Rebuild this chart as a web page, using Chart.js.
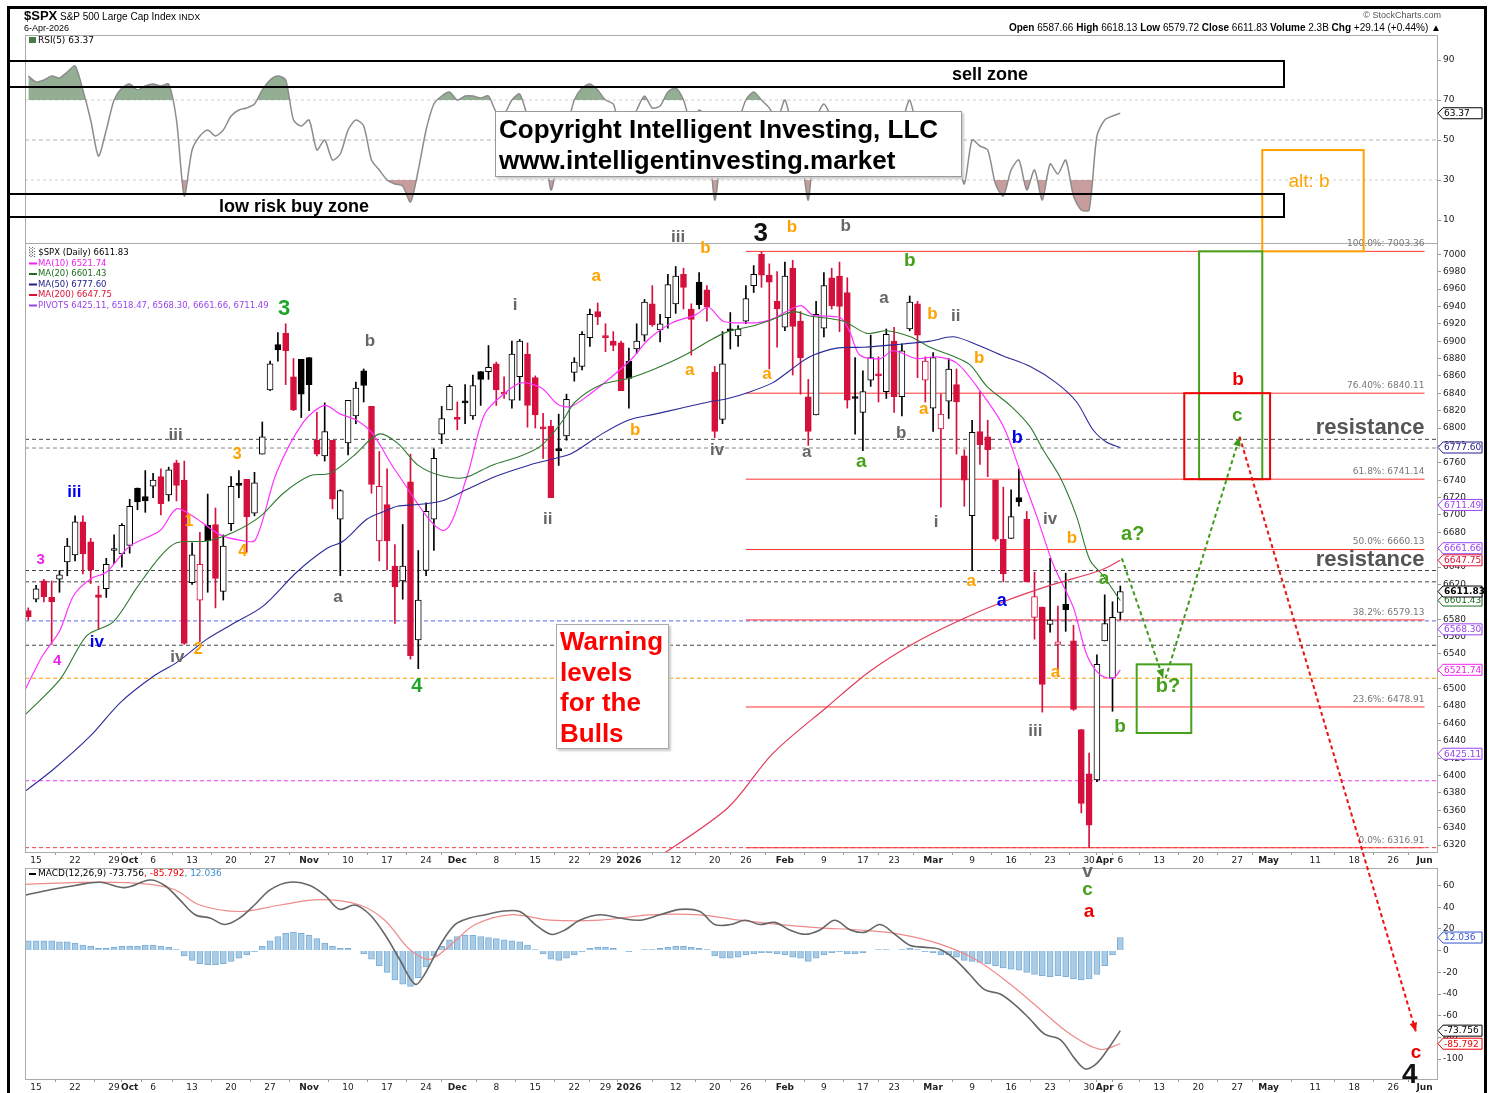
<!DOCTYPE html>
<html>
<head>
<meta charset="utf-8">
<script src="https://cdn.jsdelivr.net/npm/chart.js@4.4.1/dist/chart.umd.min.js"></script>
<style>
  body { margin: 0; background: #fff; }
  #wrap { position: relative; width: 1489px; height: 1093px; overflow: hidden; background: #fff;
          font-family: "Liberation Sans", Arial, sans-serif; }
  canvas { position: absolute; left: 0; top: 0; }
  .abs { position: absolute; white-space: nowrap; }
  #frame { position: absolute; left: 7px; top: 6px; width: 1474px; height: 1100px;
           border-left: 3px solid #000; border-top: 3px solid #000; border-right: 3px solid #000; }
  .zone { position: absolute; border: 2px solid #000; box-sizing: border-box; }
  .zone span { position: absolute; top: 50%; transform: translate(-50%, -50%); font-weight: bold; font-size: 18px; color: #000; }
  #copy { left: 495px; top: 111px; width: 467px; height: 66px; background: #fff; border: 1px solid #999;
          box-shadow: 2px 2px 2px #ccc; box-sizing: border-box; font-weight: bold; font-size: 26px; line-height: 31px; padding: 2px 0 0 3px; }
  #warn { left: 556px; top: 624px; width: 113px; height: 125px; background: #fff; border: 1px solid #aaa;
          box-shadow: 2px 2px 2px #ccc; box-sizing: border-box; color: #f00; font-weight: bold; font-size: 26px; line-height: 30.5px; padding: 1px 0 0 3px; }
</style>
</head>
<body>
<div id="wrap">
  <canvas id="rsi" width="1489" height="1093"></canvas>
  <canvas id="macd" width="1489" height="1093"></canvas>
  <canvas id="price" width="1489" height="1093"></canvas>
  <div id="frame"></div>

  <div class="abs" style="left:24px;top:8px;font-size:10px;"><b style="font-size:13px">$SPX</b> S&amp;P 500 Large Cap Index <span style="font-size:9px">INDX</span></div>
  <div class="abs" style="left:24px;top:23px;font-size:9px;">6-Apr-2026</div>
  <div class="abs" style="right:48px;top:10px;font-size:9px;color:#555;">&copy; StockCharts.com</div>
  <div class="abs" style="right:48px;top:22px;font-size:10px;"><b>Open</b> 6587.66 <b>High</b> 6618.13 <b>Low</b> 6579.72 <b>Close</b> 6611.83 <b>Volume</b> 2.3B <b>Chg</b> +29.14 (+0.44%) &#9650;</div>

  <div class="zone" style="left:8px;top:60px;width:1277px;height:28px;"><span style="left:980px">sell zone</span></div>
  <div class="zone" style="left:8px;top:193px;width:1277px;height:25px;"><span style="left:284px">low risk buy zone</span></div>
  <div class="abs" id="copy">Copyright Intelligent Investing, LLC<br>www.intelligentinvesting.market</div>
  <div class="abs" id="warn">Warning<br>levels<br>for the<br>Bulls</div>
</div>

<script>
// ---------- data ----------
// trading day index 0 = 12-Sep-2025, 140 = 6-Apr-2026 (last bar), future area to Jun
const tickDays   = [1, 6, 11, 13, 16, 21, 26, 31, 36, 41, 46, 51, 55, 60, 65, 70, 74, 77, 83, 88, 92, 97, 102, 107, 111, 116, 121, 126, 131, 136, 138, 140, 145, 150, 155, 159, 165, 170, 175, 179];
const tickLabels = ['15', '22', '29', 'Oct', '6', '13', '20', '27', 'Nov', '10', '17', '24', 'Dec', '8', '15', '22', '29', '2026', '12', '20', '26', 'Feb', '9', '17', '23', 'Mar', '9', '16', '23', '30', 'Apr', '6', '13', '20', '27', 'May', '11', '18', '26', 'Jun'];
const majorTicks = ['Oct', 'Nov', 'Dec', '2026', 'Feb', 'Mar', 'Apr', 'May', 'Jun'];

const prevClose = 6587;
const open  = [6590,6603,6624,6605,6626,6646,6654,6692,6669,6608, 6615,6659,6655,6665,6731,6721,6733,6744,6723,6760, 6740,6622,6602,6688,6689,6612,6690,6736,6741,6702,
               6770,6844,6896,6909,6859,6879,6881,6786,6768,6786, 6695,6783,6814,6866,6825,6670,6712,6641,6624,6738, 6556,6636,6695,6793,6821,6811,6830,6814,6865,6865,
               6874,6840,6832,6859,6885,6858,6801,6802,6776,6791, 6864,6871,6904,6934,6905,6900,6898,6877,6891,6907, 6943,6913,6927,6943,6977,6937,6968,6959,6864,6810,
               6914,6906,6923,6964,7000,6976,6946,6916,6984,6923, 6836,6815,6915,6973,6975,6956,6836,6818,6855,6861, 6842,6900,6836,6914,6943,6855,6823,6799,6831,6850,
               6768,6699,6796,6790,6740,6672,6673,6720,6695,6582, 6594,6574,6551,6597,6555,6453,6402,6395,6555,6512, 6587.66];
const high  = [6593,6619,6626,6624,6636,6673,6699,6699,6673,6618, 6650,6677,6690,6718,6731,6751,6748,6753,6755,6763, 6762,6668,6680,6724,6708,6677,6744,6751,6741,6749,
               6807,6877,6910,6920,6880,6879,6881,6818,6829,6786, 6729,6832,6853,6868,6825,6773,6753,6666,6689,6770, 6659,6714,6776,6825,6850,6830,6850,6861,6865,6895,
               6876,6859,6900,6902,6898,6860,6817,6809,6816,6839, 6881,6911,6937,6944,6920,6911,6900,6892,6920,6948, 6964,6931,6977,6986,6984,6943,6979,6964,6871,6911,
               6933,6918,6964,6987,7003,6989,6980,6991,6993,6934, 6856,6946,6979,6984,6991,6973,6881,6866,6907,6882, 6914,6916,6897,6952,6946,6882,6887,6839,6880,6868,
               6775,6809,6842,6809,6740,6732,6729,6753,6704,6634, 6594,6650,6595,6633,6573,6453,6426,6539,6608,6600, 6618.13];
const low   = [6579,6600,6600,6551,6611,6630,6647,6632,6621,6568, 6605,6644,6640,6656,6706,6703,6720,6700,6716,6716, 6551,6620,6554,6611,6593,6602,6682,6720,6657,6699,
               6770,6843,6877,6850,6820,6812,6820,6768,6762,6707, 6630,6769,6805,6830,6725,6647,6637,6575,6603,6534, 6523,6630,6659,6782,6821,6798,6805,6810,6826,6856,
               6826,6834,6823,6832,6801,6800,6765,6720,6757,6786, 6854,6867,6894,6919,6888,6889,6843,6823,6886,6900, 6917,6899,6915,6932,6937,6884,6937,6923,6789,6805,
               6891,6894,6920,6956,6962,6868,6893,6912,6861,6839, 6780,6815,6905,6937,6911,6823,6793,6774,6848,6830, 6834,6818,6814,6912,6858,6830,6796,6709,6811,6770,
               6710,6636,6758,6744,6670,6623,6673,6710,6623,6557, 6473,6565,6514,6566,6475,6357,6317,6393,6555,6474, 6579.72];
const close = [6583,6615,6606,6600,6631,6664,6692,6655,6637,6605, 6643,6661,6688,6710,6715,6716,6740,6713,6752,6734, 6552,6654,6643,6670,6627,6664,6733,6734,6698,6737,
               6790,6874,6890,6889,6821,6839,6850,6770,6796,6718, 6728,6832,6846,6849,6735,6733,6670,6617,6641,6538, 6602,6704,6765,6811,6848,6810,6829,6849,6856,6870,
               6844,6839,6885,6900,6826,6815,6799,6720,6774,6833, 6876,6908,6931,6928,6904,6895,6843,6857,6900,6945, 6919,6920,6965,6975,6962,6925,6942,6939,6796,6874,
               6912,6914,6949,6977,6976,6968,6937,6975,6917,6881, 6796,6931,6964,6941,6940,6832,6834,6842,6881,6860, 6908,6836,6889,6945,6907,6877,6881,6816,6868,6830,
               6740,6795,6781,6775,6672,6632,6698,6715,6623,6606, 6505,6579,6554,6591,6476,6368,6343,6528,6575,6582, 6611.83];

// moving averages, read at points along each line
const ma10Days  = [-0.4, 1.9, 4, 5.8, 8.1, 10, 13, 16.9, 19, 21.2, 24.6, 27.1, 29.1, 31.8, 35.3, 38, 40, 42.1, 44.2, 47, 53.2, 56.2, 58.5, 61.2, 63.2, 65.8, 67.9, 69.6, 72, 74.8, 77.4, 79.5, 82.5, 85.5, 87.2, 89.1, 91.9, 94, 95.5, 99, 100.6, 104.1, 105.3, 106.6, 109.2, 110.9, 113.9, 116.5, 119, 122, 125, 127.1, 129.3, 131.4, 134, 135.7, 137.4, 139.1, 140];
const ma10Vals  = [6499, 6539, 6566, 6607, 6627, 6634, 6664, 6682, 6707, 6698, 6677, 6671, 6671, 6748, 6807, 6826, 6816, 6809, 6793, 6752, 6682, 6743, 6816, 6841, 6852, 6846, 6827, 6825, 6839, 6859, 6880, 6902, 6921, 6930, 6939, 6923, 6921, 6922, 6926, 6941, 6930, 6927, 6911, 6884, 6880, 6889, 6880, 6882, 6875, 6843, 6802, 6752, 6698, 6643, 6593, 6539, 6516, 6512, 6521.74];
const ma20Days  = [-0.4, 4.1, 7.5, 10.9, 13.9, 16.9, 19, 22.9, 26.3, 29.7, 32.7, 36.1, 38.7, 41.7, 44.9, 47.3, 50, 53, 56, 59.4, 63.2, 65.8, 68.4, 70.1, 73.5, 76.9, 80.3, 84.2, 87.2, 89.7, 93.1, 95.4, 98.1, 100.2, 104.5, 107.5, 110.1, 113.1, 115.6, 118.2, 120.7, 122.9, 126, 128.4, 130.1, 132.3, 134.4, 136.1, 137.8, 140];
const ma20Vals  = [6470, 6511, 6561, 6577, 6616, 6652, 6668, 6670, 6680, 6698, 6725, 6745, 6748, 6768, 6793, 6783, 6757, 6745, 6743, 6757, 6768, 6780, 6807, 6830, 6850, 6857, 6868, 6884, 6900, 6911, 6918, 6925, 6934, 6929, 6923, 6909, 6912, 6905, 6893, 6884, 6873, 6848, 6825, 6802, 6775, 6743, 6698, 6648, 6630, 6601.43];
const ma50Days  = [-0.4, 3.2, 7.9, 11.8, 16, 19, 22.9, 26.3, 30.1, 34.4, 38.2, 40.4, 43.4, 45.9, 47.3, 50, 53, 56.4, 59.8, 64.1, 67.5, 69.7, 73.5, 76.9, 80.3, 83.8, 87.2, 89.7, 92.3, 95.4, 97.6, 100.2, 103.6, 107, 111.3, 115.6, 118.6, 121.6, 125, 128.4, 131.8, 134.4, 136.5, 138.2, 140];
const ma50Vals  = [6382, 6407, 6445, 6484, 6514, 6530, 6557, 6575, 6595, 6634, 6661, 6670, 6695, 6705, 6710, 6712, 6716, 6730, 6744, 6757, 6765, 6771, 6793, 6809, 6816, 6823, 6830, 6834, 6841, 6852, 6866, 6882, 6892, 6893, 6896, 6900, 6905, 6896, 6883, 6871, 6852, 6830, 6798, 6784, 6777.60];
const ma200Days = [76, 80.3, 89.7, 95.4, 102.4, 107.9, 113.5, 119.5, 125, 131.4, 137.4, 140];
const ma200Vals = [6275, 6303, 6363, 6425, 6479, 6520, 6552, 6579, 6600, 6620, 6636, 6647.75];
const pivots = [6425.11, 6518.47, 6568.30, 6661.66, 6711.49];

// horizontal levels across the price panel
const hLevels = [6787, 6777, 6636, 6623, 6578, 6550, 6512, 6394, 6317];
const fibLevels = [7003.36, 6840.11, 6741.14, 6660.13, 6579.13, 6478.91, 6316.91];
const fibNames  = ['100.0%', '76.40%', '61.8%', '50.0%', '38.2%', '23.6%', '0.0%'];
const fibFrom = 92, fibTo = 179;

// RSI(5), one value per bar
const rsi = [82, 79, 80, 82, 81, 84, 87, 75, 60, 42, 55, 70, 76, 78, 75, 77, 78, 77, 78, 60,
             22, 45, 52, 55, 52, 55, 62, 65, 66, 68, 75, 80, 82, 80, 60, 57, 60, 45, 50, 40,
             43, 55, 60, 57, 40, 35, 30, 28, 27, 19, 35, 55, 68, 72, 74, 70, 72, 72, 71, 72,
             64, 63, 70, 73, 62, 55, 52, 25, 42, 55, 70, 76, 78, 75, 70, 68, 55, 58, 65, 72,
             66, 67, 74, 76, 70, 58, 65, 60, 20, 48, 60, 60, 70, 74, 70, 66, 60, 70, 55, 45,
             20, 60, 68, 62, 62, 32, 35, 40, 50, 48, 62, 45, 58, 70, 55, 50, 55, 35, 52, 45,
             28, 50, 47, 45, 28, 22, 35, 40, 25, 35, 20, 38, 33, 40, 22, 15, 15, 52, 60, 62, 63.37];

// MACD(12,26,9)
const macdDays = [-0.4, 2.8, 6, 9.2, 12.4, 15.6, 17.5, 19.4, 21.4, 23.3, 25.2, 27.1, 29, 31, 33.5, 36.1, 38, 39.9, 41.9, 43.8, 45.7, 47.6, 49.6, 50.8, 52.8, 54.7, 56.6, 58.6, 60.5, 63, 65, 67, 68.8, 70.7, 73.3, 75.8, 78.4, 81, 83.6, 86.1, 88, 90, 91.9, 93.8, 95.7, 97.6, 99.6, 101.5, 103.4, 105.4, 107.3, 109.2, 111.1, 113, 115, 116.9, 118.8, 120.7, 122.6, 124.6, 126.5, 128.4, 130.3, 132.3, 134.2, 135.5, 136.8, 138, 140];
const macdVals = [51, 56, 60, 63, 58, 65, 60, 47, 33, 30, 24, 30, 42, 56, 63, 60, 51, 38, 42, 33, 15, -8, -31, -22, 5, 24, 30, 33, 36, 36, 24, 15, 19, 28, 33, 30, 28, 33, 38, 36, 24, 24, 28, 24, 26, 19, 15, 19, 28, 19, 17, 24, 15, 5, 3, 1, -8, -22, -36, -40, -50, -63, -77, -82, -100, -109, -105, -95, -73.756];
const signalDays = [-0.4, 9.2, 15.6, 18.8, 22, 27.1, 32.3, 37.4, 42.5, 45.7, 48.9, 51.5, 54.1, 57.3, 61.8, 66.9, 73.3, 79.7, 86.1, 91.2, 96.4, 101.5, 106.6, 111.8, 116.9, 121.4, 125.9, 129.7, 133.6, 137.4, 140];
const signalVals = [61, 63, 61, 56, 42, 36, 42, 47, 42, 28, 1, -8, 5, 24, 33, 28, 28, 33, 33, 28, 24, 21, 19, 15, 6, -8, -31, -54, -77, -91, -85.792];
const histVals = [9, 9, 9, 9, 8, 8, 7, 5, 4, 2, 2, 3, 4, 4, 4, 5, 5, 4, 3, 1,
                  -5, -9, -12, -13, -13, -12, -10, -7, -4, -1, 4, 9, 13, 16, 17, 16, 14, 11, 7, 4,
                  2, 2, 0, -3, -8, -14, -20, -27, -31, -33, -25, -15, -5, 4, 10, 13, 14, 14, 13, 12,
                  11, 10, 9, 8, 5, 1, -3, -8, -9, -7, -4, -1, 2, 3, 3, 2, 0, -1, 0, 1,
                  1, 2, 3, 4, 4, 3, 2, 1, -5, -7, -7, -6, -4, -3, -2, -2, -3, -4, -6, -7,
                  -10, -7, -4, -2, -1, -3, -3, -2, 0, 1, 1, 0, 1, 2, 1, -1, -2, -4, -4, -6,
                  -9, -10, -11, -12, -14, -16, -17, -18, -20, -22, -23, -24, -23, -24, -26, -27, -26, -22, -14, -4, 12.036];

const priceTicks = [6320, 6340, 6360, 6380, 6400, 6420, 6440, 6460, 6480, 6500, 6520, 6540, 6560, 6580, 6600, 6620, 6640, 6660, 6680, 6700, 6720, 6740, 6760, 6780, 6800, 6820, 6840, 6860, 6880, 6900, 6920, 6940, 6960, 6980, 7000];
const rsiTicks  = [10, 30, 50, 70, 90];
const macdTicks = [-100, -80, -60, -40, -20, 0, 20, 40, 60];

// wave-count labels: text, trading day, price, colour key, font size
const waveLabels = [
  ['3', 1.6, 6648, 'mag', 15], ['4', 3.7, 6532, 'mag', 15], ['iii', 5.9, 6726, 'blu', 17], ['iv', 8.8, 6553, 'blu', 17],
  ['iii', 18.9, 6792, 'gry', 17], ['1', 20.6, 6692, 'org', 16], ['iv', 19.1, 6536, 'gry', 17], ['2', 21.8, 6545, 'org', 16],
  ['3', 26.8, 6769, 'org', 16], ['4', 27.5, 6658, 'org', 16], ['3', 32.8, 6937, 'grn', 22], ['b', 43.8, 6900, 'gry', 17],
  ['a', 39.7, 6605, 'gry', 17], ['4', 49.8, 6502, 'grn', 20], ['i', 62.4, 6941, 'gry', 17], ['ii', 66.6, 6695, 'gry', 17],
  ['a', 72.8, 6975, 'org', 17], ['iii', 83.3, 7020, 'gry', 17], ['b', 86.8, 7007, 'org', 17], ['a', 84.8, 6867, 'org', 17],
  ['b', 77.8, 6797, 'org', 17], ['iv', 88.3, 6774, 'gry', 17], ['3', 93.9, 7023, 'blk', 26], ['b', 97.9, 7031, 'org', 17],
  ['b', 104.8, 7032, 'gry', 17], ['a', 94.7, 6862, 'org', 17], ['a', 99.8, 6772, 'gry', 17], ['b', 113.0, 6992, 'lgr', 19],
  ['a', 109.7, 6949, 'gry', 17], ['b', 115.9, 6931, 'org', 17], ['ii', 118.9, 6929, 'gry', 17], ['b', 121.9, 6880, 'org', 17],
  ['a', 114.8, 6822, 'org', 17], ['b', 111.9, 6794, 'gry', 17], ['a', 106.8, 6761, 'lgr', 19], ['b', 126.8, 6788, 'blu', 18],
  ['i', 116.4, 6692, 'gry', 17], ['iv', 131.0, 6695, 'gry', 17], ['b', 133.8, 6673, 'org', 17], ['a?', 141.6, 6678, 'lgr', 20],
  ['a', 120.9, 6624, 'org', 17], ['a', 124.8, 6601, 'blu', 18], ['a', 137.9, 6626, 'lgr', 19], ['a', 131.7, 6519, 'org', 17],
  ['b?', 146.1, 6503, 'lgr', 20], ['iii', 129.1, 6451, 'gry', 17], ['b', 139.96, 6456, 'lgr', 19], ['b', 155.1, 6855, 'red', 19],
  ['c', 155.0, 6814, 'lgr', 19], ['v', 135.8, 6289, 'gry', 19], ['c', 135.8, 6268, 'lgr', 19], ['a', 136.0, 6243, 'red', 19],
  ['c', 177.9, 6081, 'red', 19], ['4', 177.1, 6055, 'blk', 28]
];
// target boxes: day from, day to, price top, price bottom, colour key
const targetBoxes = [
  [158.2, 171.2, 7120, 7003.36, 'org'], [150.1, 158.2, 7003.36, 6741.14, 'lgr'],
  [148.2, 159.2, 6840.11, 6741.14, 'red'], [142.1, 149.1, 6528, 6449, 'lgr']
];
// projected path: day, price pairs
const pathGreen1 = [[140.2, 6650], [145.5, 6512]];
const pathGreen2 = [[145.8, 6512], [155.3, 6790]];
const pathRed    = [[155.3, 6790], [177.9, 6105]];

// ---------- styling ----------
const SANS = '"Liberation Sans", Arial, sans-serif';
const AXF = '"DejaVu Sans", Verdana, sans-serif';
const RED = '#d5103d';
const COL = { mag: '#ee22ee', blu: '#0000ee', org: '#ffa200', gry: '#666666', grn: '#1ea52a', lgr: '#45a01a', blk: '#111111', red: '#ee0000' };
const X_MIN = -0.42, X_MAX = 180.6;
const LEFT = 25, RIGHT_W = 52;

Chart.defaults.font.family = AXF;

const labelAt = v => { const k = tickDays.indexOf(v); return k < 0 ? '' : tickLabels[k]; };

function xAxis(show) {
  return {
    type: 'linear', min: X_MIN, max: X_MAX, offset: false, display: show,
    afterBuildTicks: s => { s.ticks = tickDays.map(v => ({ value: v })); },
    afterFit: s => { s.height = show ? 14 : 0; },
    grid: { drawOnChartArea: false, tickLength: 3, color: '#999' },
    border: { color: '#aaa' },
    ticks: {
      autoSkip: false, maxRotation: 0, minRotation: 0, padding: 0, color: '#222',
      callback: v => labelAt(v),
      font: c => ({ family: AXF, size: 9, weight: majorTicks.includes(labelAt(c.tick ? c.tick.value : null)) ? 'bold' : 'normal' })
    }
  };
}
function yAxis(min, max, ticks) {
  return {
    position: 'right', min: min, max: max,
    afterBuildTicks: s => { s.ticks = ticks.map(v => ({ value: v })); },
    afterFit: s => { s.width = RIGHT_W; },
    grid: { drawOnChartArea: false, tickLength: 4, color: '#999' },
    border: { color: '#aaa' },
    ticks: { padding: 2, color: '#222', font: { family: AXF, size: 9 }, callback: v => String(v) }
  };
}

function tag(ctx, x, y, txt, color, bold) {
  ctx.save();
  ctx.font = (bold ? 'bold ' : '') + '9px ' + AXF;
  const w = 45, h = 11;
  ctx.beginPath();
  ctx.moveTo(x + 1, y); ctx.lineTo(x + 6, y - h / 2); ctx.lineTo(x + w, y - h / 2);
  ctx.lineTo(x + w, y + h / 2); ctx.lineTo(x + 6, y + h / 2); ctx.closePath();
  ctx.fillStyle = '#fff'; ctx.fill();
  ctx.strokeStyle = color; ctx.lineWidth = 1; ctx.stroke();
  ctx.fillStyle = bold ? '#000' : color;
  ctx.textBaseline = 'middle'; ctx.textAlign = 'left';
  ctx.fillText(txt, x + 7, y + 0.5);
  ctx.restore();
}
function frame(chart) {
  const a = chart.chartArea, ctx = chart.ctx;
  ctx.save(); ctx.strokeStyle = '#aaa'; ctx.lineWidth = 1;
  ctx.strokeRect(Math.round(a.left) + 0.5, Math.round(a.top) + 0.5, Math.round(a.right - a.left), Math.round(a.bottom - a.top));
  ctx.restore();
}
function legendLine(ctx, x, y, parts) {
  let cx = x;
  parts.forEach(([t, c]) => { ctx.fillStyle = c; ctx.fillText(t, cx, y); cx += ctx.measureText(t).width; });
}
function arrow(ctx, pts, color, xs, ys) {
  const p = pts.map(([d, v]) => [xs.getPixelForValue(d), ys.getPixelForValue(v)]);
  ctx.save();
  ctx.strokeStyle = color; ctx.fillStyle = color; ctx.lineWidth = 2; ctx.setLineDash([4, 3]);
  ctx.beginPath(); ctx.moveTo(p[0][0], p[0][1]); ctx.lineTo(p[1][0], p[1][1]); ctx.stroke();
  ctx.setLineDash([]);
  const ang = Math.atan2(p[1][1] - p[0][1], p[1][0] - p[0][0]);
  ctx.beginPath();
  ctx.moveTo(p[1][0], p[1][1]);
  ctx.lineTo(p[1][0] - 10 * Math.cos(ang - 0.4), p[1][1] - 10 * Math.sin(ang - 0.4));
  ctx.lineTo(p[1][0] - 10 * Math.cos(ang + 0.4), p[1][1] - 10 * Math.sin(ang + 0.4));
  ctx.closePath(); ctx.fill();
  ctx.restore();
}

// ---------- RSI panel ----------
const rsiPlugin = {
  id: 'rsiDecor',
  afterDraw(chart) {
    const ctx = chart.ctx, a = chart.chartArea, ys = chart.scales.y;
    frame(chart);
    ctx.save();
    ctx.font = '9px ' + AXF; ctx.textBaseline = 'middle';
    ctx.fillStyle = '#4a7a4a'; ctx.fillRect(29, 37, 7, 6);
    ctx.fillStyle = '#000'; ctx.fillText('RSI(5) ' + rsi[rsi.length - 1].toFixed(2), 38, 40.5);
    ctx.restore();
    tag(ctx, a.right, ys.getPixelForValue(rsi[rsi.length - 1]), rsi[rsi.length - 1].toFixed(2), '#000', false);
  }
};
const rsiSeries = rsi.map((v, i) => ({ x: i, y: v }));
const rsiLevel = (v, c, dash) => ({ type: 'line', data: [{ x: X_MIN, y: v }, { x: X_MAX, y: v }], borderColor: c, borderWidth: 1, borderDash: dash, pointRadius: 0, order: 9 });
new Chart(document.getElementById('rsi'), {
  type: 'line',
  data: { datasets: [
    { data: rsiSeries, borderColor: '#8c8c8c', borderWidth: 1.5, pointRadius: 0, tension: 0.25,
      fill: { target: { value: 70 }, above: 'rgba(128,160,128,0.85)', below: 'rgba(0,0,0,0)' }, order: 1 },
    { data: rsiSeries, borderWidth: 0, pointRadius: 0, tension: 0.25,
      fill: { target: { value: 30 }, above: 'rgba(0,0,0,0)', below: 'rgba(190,140,140,0.85)' }, order: 2 },
    rsiLevel(70, '#d0d0d0', [3, 3]), rsiLevel(50, '#b0b0b0', [4, 3]), rsiLevel(30, '#d0d0d0', [3, 3])
  ] },
  options: {
    responsive: false, animation: false, events: [],
    layout: { padding: { left: LEFT, top: 35, right: 0, bottom: 1093 - 243 } },
    plugins: { legend: { display: false }, tooltip: { enabled: false } },
    scales: { x: xAxis(false), y: yAxis(-1.5, 102.5, rsiTicks) }
  },
  plugins: [rsiPlugin]
});

// ---------- MACD panel ----------
const macdPlugin = {
  id: 'macdDecor',
  afterDraw(chart) {
    const ctx = chart.ctx, a = chart.chartArea, ys = chart.scales.y;
    frame(chart);
    const m = macdVals[macdVals.length - 1], s = signalVals[signalVals.length - 1], h = histVals[histVals.length - 1];
    ctx.save();
    ctx.font = '9px ' + AXF; ctx.textBaseline = 'middle';
    ctx.fillStyle = '#000'; ctx.fillRect(29, 873, 7, 2);
    legendLine(ctx, 38, 874, [['MACD(12,26,9) ' + m.toFixed(3), '#000'], [', ' + s.toFixed(3), '#ee0000'], [', ' + h.toFixed(3), '#3b8fd0']]);
    ctx.restore();
    tag(ctx, a.right, ys.getPixelForValue(h), h.toFixed(3), '#3355cc', false);
    tag(ctx, a.right, ys.getPixelForValue(m), m.toFixed(3), '#000', false);
    tag(ctx, a.right, ys.getPixelForValue(s), s.toFixed(3), '#ee0000', false);
  }
};
new Chart(document.getElementById('macd'), {
  type: 'bar',
  data: { datasets: [
    { type: 'line', data: macdDays.map((d, k) => ({ x: d, y: macdVals[k] })), borderColor: '#666', borderWidth: 1.6, pointRadius: 0, tension: 0.35, order: 1 },
    { type: 'line', data: signalDays.map((d, k) => ({ x: d, y: signalVals[k] })), borderColor: '#f08a8a', borderWidth: 1.2, pointRadius: 0, tension: 0.35, order: 2 },
    { type: 'bar', data: histVals.map((v, i) => ({ x: i, y: v })), backgroundColor: '#a8cbe6', borderColor: '#7eaed6', borderWidth: 1,
      barThickness: 6, grouped: false, order: 3 }
  ] },
  options: {
    responsive: false, animation: false, events: [],
    layout: { padding: { left: LEFT, top: 868, right: 0, bottom: 0 } },
    plugins: { legend: { display: false }, tooltip: { enabled: false } },
    scales: { x: xAxis(true), y: yAxis(-118.3, 76.1, macdTicks) }
  },
  plugins: [macdPlugin]
});

// ---------- price panel ----------
const strokeCol = [], fillCol = [];
close.forEach((c, i) => {
  const gain = c >= (i === 0 ? prevClose : close[i - 1]);
  const stroke = gain ? '#000' : RED;
  strokeCol.push(stroke);
  fillCol.push(c >= open[i] ? '#fff' : stroke);
});

const pricePlugin = {
  id: 'priceDecor',
  afterDraw(chart) {
    const ctx = chart.ctx, a = chart.chartArea, xs = chart.scales.x, ys = chart.scales.y;
    frame(chart);
    ctx.save();
    // fib labels
    ctx.font = '9px ' + AXF; ctx.fillStyle = '#777'; ctx.textAlign = 'right'; ctx.textBaseline = 'bottom';
    fibLevels.forEach((v, k) => ctx.fillText(fibNames[k] + ': ' + v.toFixed(2), xs.getPixelForValue(fibTo), ys.getPixelForValue(v) - 3));
    // resistance notes
    ctx.font = 'bold 22px ' + SANS; ctx.fillStyle = '#555'; ctx.textBaseline = 'middle';
    ctx.fillText('resistance', xs.getPixelForValue(fibTo), ys.getPixelForValue(6800));
    ctx.fillText('resistance', xs.getPixelForValue(fibTo), ys.getPixelForValue(6648));
    // target boxes
    targetBoxes.forEach(([d0, d1, p0, p1, c]) => {
      const x0 = xs.getPixelForValue(d0), x1 = xs.getPixelForValue(d1), y0 = ys.getPixelForValue(p0), y1 = ys.getPixelForValue(p1);
      ctx.strokeStyle = COL[c]; ctx.lineWidth = 2; ctx.strokeRect(x0, y0, x1 - x0, y1 - y0);
    });
    ctx.font = '19px ' + SANS; ctx.fillStyle = COL.org; ctx.textAlign = 'center';
    ctx.fillText('alt: b', xs.getPixelForValue(164.2), ys.getPixelForValue(7084));
    // projected path
    arrow(ctx, pathGreen1, '#3f9a1a', xs, ys);
    arrow(ctx, pathGreen2, '#3f9a1a', xs, ys);
    arrow(ctx, pathRed, '#ee1111', xs, ys);
    // wave labels
    ctx.textAlign = 'center'; ctx.textBaseline = 'middle';
    waveLabels.forEach(([t, d, v, c, sz]) => {
      ctx.font = 'bold ' + sz + 'px ' + SANS; ctx.fillStyle = COL[c];
      ctx.fillText(t, xs.getPixelForValue(d), ys.getPixelForValue(v));
    });
    // legend
    ctx.font = '8.5px ' + AXF; ctx.textAlign = 'left'; ctx.textBaseline = 'middle';
    ctx.fillStyle = '#000'; ctx.fillText('\u2591 $SPX (Daily) ' + close[close.length - 1].toFixed(2), 29, 253);
    const rows = [
      ['MA(10) ' + ma10Vals[ma10Vals.length - 1].toFixed(2), '#ee22ee'],
      ['MA(20) ' + ma20Vals[ma20Vals.length - 1].toFixed(2), '#1e6e1e'],
      ['MA(50) ' + ma50Vals[ma50Vals.length - 1].toFixed(2), '#22228a'],
      ['MA(200) ' + ma200Vals[ma200Vals.length - 1].toFixed(2), '#dd1133'],
      ['PIVOTS ' + pivots.map(v => v.toFixed(2)).join(', '), '#9944ee']
    ];
    rows.forEach(([t, c], k) => {
      const y = 263.5 + k * 10.5;
      ctx.fillStyle = c; ctx.fillRect(29, y - 1, 8, 2); ctx.fillText(t, 38, y);
    });
    ctx.restore();
    // axis tags
    const R = a.right;
    tag(ctx, R, ys.getPixelForValue(ma50Vals[ma50Vals.length - 1]), ma50Vals[ma50Vals.length - 1].toFixed(2), '#22228a', false);
    tag(ctx, R, ys.getPixelForValue(pivots[4]), pivots[4].toFixed(2), '#9944ee', false);
    tag(ctx, R, ys.getPixelForValue(pivots[3]), pivots[3].toFixed(2), '#9944ee', false);
    tag(ctx, R, ys.getPixelForValue(ma200Vals[ma200Vals.length - 1]), ma200Vals[ma200Vals.length - 1].toFixed(2), '#dd1133', false);
    tag(ctx, R, ys.getPixelForValue(ma20Vals[ma20Vals.length - 1]), ma20Vals[ma20Vals.length - 1].toFixed(2), '#1e6e1e', false);
    tag(ctx, R, ys.getPixelForValue(close[close.length - 1]), close[close.length - 1].toFixed(2), '#000', true);
    tag(ctx, R, ys.getPixelForValue(pivots[2]), pivots[2].toFixed(2), '#9944ee', false);
    tag(ctx, R, ys.getPixelForValue(ma10Vals[ma10Vals.length - 1]), ma10Vals[ma10Vals.length - 1].toFixed(2), '#ee22ee', false);
    tag(ctx, R, ys.getPixelForValue(pivots[0]), pivots[0].toFixed(2), '#9944ee', false);
  }
};

const hColors = ['#444', '#888', '#444', '#444', '#5566ee', '#444', '#ff9900', '#ee33ee', '#ee4444'];
const priceDatasets = [
  { type: 'bar', data: high.map((h, i) => ({ x: i, y: [low[i], h] })), backgroundColor: strokeCol, borderWidth: 0,
    barThickness: 1, grouped: false, order: 4 },
  { type: 'bar', data: open.map((o, i) => ({ x: i, y: [o, close[i]] })), backgroundColor: fillCol, borderColor: strokeCol,
    borderWidth: 1, borderSkipped: false, barThickness: 6, minBarLength: 2, grouped: false, order: 3 },
  { type: 'line', data: ma200Days.map((d, k) => ({ x: d, y: ma200Vals[k] })), borderColor: '#e23a5a', borderWidth: 1.2, pointRadius: 0, tension: 0.3, order: 2 },
  { type: 'line', data: ma50Days.map((d, k) => ({ x: d, y: ma50Vals[k] })), borderColor: '#2a2a99', borderWidth: 1.1, pointRadius: 0, tension: 0.3, order: 2 },
  { type: 'line', data: ma20Days.map((d, k) => ({ x: d, y: ma20Vals[k] })), borderColor: '#2e7a2e', borderWidth: 1.1, pointRadius: 0, tension: 0.3, order: 2 },
  { type: 'line', data: ma10Days.map((d, k) => ({ x: d, y: ma10Vals[k] })), borderColor: '#ff33ff', borderWidth: 1.2, pointRadius: 0, tension: 0.3, order: 2 }
];
hLevels.forEach((v, k) => priceDatasets.push({ type: 'line', data: [{ x: X_MIN, y: v }, { x: X_MAX, y: v }],
  borderColor: hColors[k], borderWidth: 1, borderDash: [4, 3], pointRadius: 0, order: 6 }));
fibLevels.forEach(v => priceDatasets.push({ type: 'line', data: [{ x: fibFrom, y: v }, { x: fibTo, y: v }],
  borderColor: '#ff3333', borderWidth: 1, pointRadius: 0, order: 5 }));

new Chart(document.getElementById('price'), {
  type: 'bar',
  data: { datasets: priceDatasets },
  options: {
    responsive: false, animation: false, events: [],
    layout: { padding: { left: LEFT, top: 243, right: 0, bottom: 1093 - 852 - 14 } },
    plugins: { legend: { display: false }, tooltip: { enabled: false } },
    scales: { x: xAxis(true), y: yAxis(6312, 7013, priceTicks) }
  },
  plugins: [pricePlugin]
});
</script>
</body>
</html>
